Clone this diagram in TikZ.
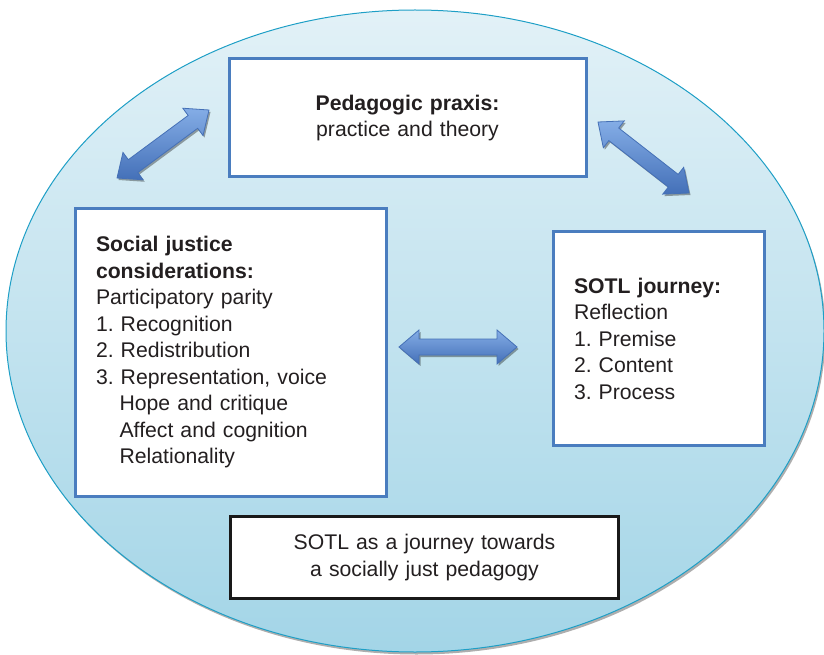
\documentclass[tikz,border=0pt]{standalone}
\usepackage{fontspec}
\setmainfont{Liberation Sans}
\usetikzlibrary{calc,shadows}
\frenchspacing

\definecolor{ringline}{HTML}{1E9FC6}
\definecolor{ringtop}{HTML}{E2F1F7}
\definecolor{ringbot}{HTML}{A3D5E7}
\definecolor{boxblue}{HTML}{4A7DBF}
\definecolor{inkgray}{HTML}{231F20}
\definecolor{arrowlight}{HTML}{84ADE6}
\definecolor{arrowdark}{HTML}{4470B8}
\definecolor{arrowedge}{HTML}{4570B6}

% double-headed block arrow between two named coordinates
\newcommand\blockarrow[2]{%
  \coordinate (#1h) at ($(#1)!20pt!(#2)$);
  \coordinate (#2h) at ($(#2)!20pt!(#1)$);
  \path[blockfill]
    (#1) -- ($(#1h)!17pt!90:(#2)$) -- ($(#1h)!8pt!90:(#2)$)
    -- ($(#2h)!8pt!-90:(#1)$) -- ($(#2h)!17pt!-90:(#1)$)
    -- (#2) -- ($(#2h)!17pt!90:(#1)$) -- ($(#2h)!8pt!90:(#1)$)
    -- ($(#1h)!8pt!-90:(#2)$) -- ($(#1h)!17pt!-90:(#2)$) -- cycle;
}

\begin{document}
\begin{tikzpicture}[x=1pt,y=-1pt,
  panel/.style={draw=boxblue, line width=3pt, fill=white, inner sep=0pt,
    text=inkgray, font=\fontsize{21.2}{26.5}\selectfont},
  blockfill/.style={draw=arrowedge, line width=0.8pt, top color=arrowlight,
    bottom color=arrowdark,
    drop shadow={shadow xshift=1.5pt, shadow yshift=-2pt, opacity=0.35, fill=black}},
]
\useasboundingbox (0,0) rectangle (824,655);

% background oval
\path[draw=ringline, line width=1pt, top color=ringtop, bottom color=ringbot,
  drop shadow={shadow xshift=1.5pt, shadow yshift=-2.5pt, opacity=0.45, fill=black!70}]
  (415,331) ellipse [x radius=409, y radius=321];

% boxes
\node[panel, minimum width=357, minimum height=118, text width=340, align=center]
  (praxis) at (407.5,118) {\textbf{Pedagogic praxis:}\\practice and theory};

\node[panel, minimum width=311, minimum height=288, text width=270, align=left]
  (justice) at (231,352.5) {\textbf{Social justice}\\\textbf{considerations:}\\
  Participatory parity\\1. Recognition\\2. Redistribution\\3. Representation, voice\\
  \hspace*{23.6pt}Hope and critique\\\hspace*{23.6pt}Affect and cognition\\
  \hspace*{23.6pt}Relationality};

\node[panel, minimum width=211, minimum height=214, text width=170, align=left]
  (sotl) at (659,338.5) {\textbf{SOTL journey:}\\Reflection\\1. Premise\\2. Content\\3. Process};

\node[panel, draw=black!90, minimum width=388, minimum height=82, text width=370, align=center]
  (journey) at (424.5,557.5) {SOTL as a journey towards\\a socially just pedagogy};

% block arrows
\coordinate (la) at (117,178);
\coordinate (lb) at (209,110);
\coordinate (ra) at (598,122);
\coordinate (rb) at (689,193);
\coordinate (ma) at (399,347);
\coordinate (mb) at (517,347);
\blockarrow{la}{lb}
\blockarrow{ra}{rb}
\blockarrow{ma}{mb}
\end{tikzpicture}
\end{document}
